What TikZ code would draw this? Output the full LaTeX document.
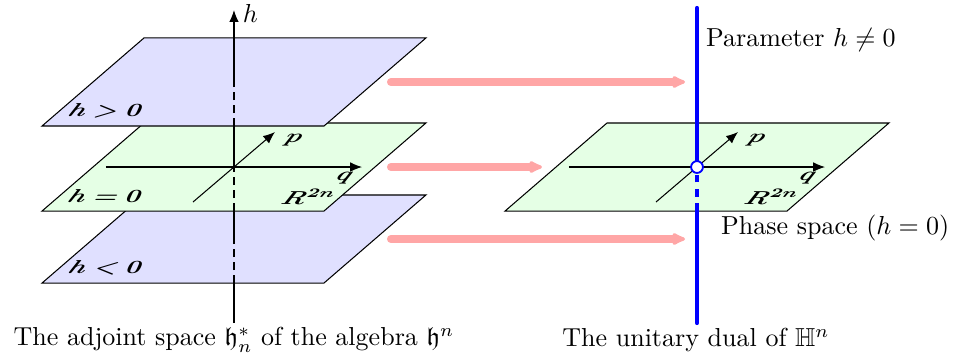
\documentclass[tikz,border=0pt]{standalone}
\usepackage{amsmath,amssymb}
\usetikzlibrary{arrows.meta}
\tikzset{
  leaf/.style={draw,line width=0.4pt},
  inplane/.style={xslant=0.45,yscale=0.72,inner sep=1pt},
  hidden/.style={dash pattern=on 3pt off 2pt},
  axis/.style={-{Latex[length=1.6mm,width=1.3mm]}},
  flow/.style={line width=3pt,red!35,line cap=round,-{Latex[round,length=2.2mm,width=2mm]}},
  dual/.style={blue,line width=1.6pt,line cap=round},
}
\begin{document}
\begin{tikzpicture}[x=1cm,y=1cm]
\useasboundingbox (-3.162,-2.635) rectangle (9.730,2.257);
% left: the three leaves h<0, h=0, h>0
\foreach \h/\c/\n/\lab in {-0.973/blue!12/lo/{h<0}, 0/green!10/mid/{h=0}, 1.149/blue!12/up/{h>0}}{
  \draw[leaf,fill=\c] (-2.594,\h-0.595) -- (1.216,\h-0.595) -- (2.594,\h+0.595) -- (-1.216,\h+0.595) -- cycle;
  \node[inplane] (\n) at (-1.73,\h-0.392) {$\boldsymbol{\lab}$};
}
% right: phase space
\draw[leaf,fill=green!10] (6.257-2.594,-0.595) -- (6.257+1.216,-0.595) -- (6.257+2.594,0.595) -- (6.257-1.216,0.595) -- cycle;
% q, p axes on both h=0 planes
\foreach \x/\n in {0/L,6.257/R}{
  \begin{scope}[xshift=\x cm]
    \draw[axis] (-1.73,0) -- (1.73,0);
    \draw[axis] (-0.554,-0.473) -- (0.554,0.473);
    \node[inplane] (p\n) at (0.797,0.365) {$\boldsymbol{p}$};
    \node[inplane] (q\n) at (1.486,-0.15) {$\boldsymbol{q}$};
    \node[inplane] (r\n) at (1.014,-0.405) {$\boldsymbol{R^{2n}}$};
  \end{scope}
}
% h axis, dashed where it is under a leaf
\coordinate (hbot) at (0,-2.108);
\coordinate (htop) at (0,2.12);
\draw (hbot) -- (0,-1.568) (0,-0.973) -- (0,-0.595) (0,0) -- (0,0.554);
\draw[axis] (0,1.149) -- (htop);
\foreach \c in {-0.973,0,1.149}
  \draw[hidden] (0,\c-0.595) -- (0,\c);
\node (hlab) at (0.22,2.08) {$h$};
% the maps
\foreach \y/\e/\i in {1.149/6.095/1, 0/4.162/2, -0.973/6.095/3}{
  \coordinate (from\i) at (2.12,\y);
  \coordinate (to\i) at (\e,\y);
  \draw[flow] (from\i) -- (to\i);
}
% unitary dual
\coordinate (dtop) at (6.257,2.149);
\coordinate (dbot) at (6.257,-2.108);
\coordinate (dmid) at (6.257,0);
\draw[dual] (dbot) -- (6.257,-0.595);
\draw[dual,line cap=butt,dash pattern=on 3pt off 2.5pt] (6.257,-0.595) -- (dmid);
\draw[dual] (dmid) -- (dtop);
\node[circle,draw=blue,fill=white,line width=0.7pt,inner sep=0pt,minimum size=1.6mm] (origin) at (dmid) {};
\node[anchor=west] (param) at (6.257,1.716) {Parameter $h\neq 0$};
\node[anchor=west] (phase) at (6.46,-0.824) {Phase space ($h=0$)};
% captions
\node (capL) at (0,-2.338) {The adjoint space $\mathfrak{h}_n^*$ of the algebra $\mathfrak{h}^n$};
\node (capR) at (6.243,-2.338) {The unitary dual of $\mathbb{H}^n$};
\end{tikzpicture}
\end{document}
